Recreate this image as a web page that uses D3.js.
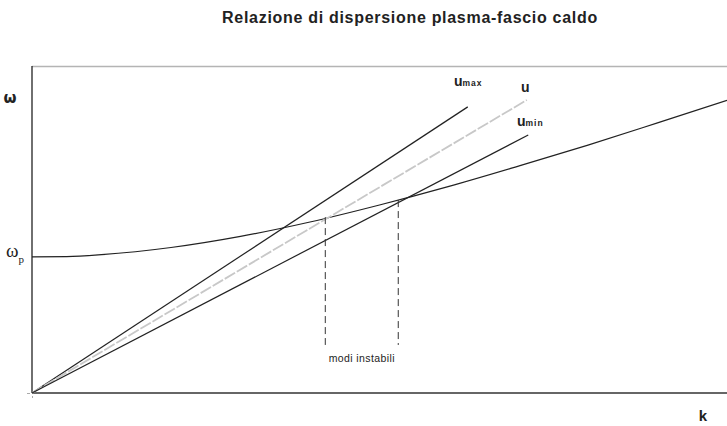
<!DOCTYPE html>
<html>
<head>
<meta charset="utf-8">
<script src="https://cdn.jsdelivr.net/npm/d3@7"></script>
<style>
  body { margin: 0; background: #fff; }
  svg { display: block; font-family: "Liberation Sans", Arial, sans-serif; }
</style>
</head>
<body>
<div id="chart"></div>
<script>
// values (k and omega in arbitrary units, 0..10)
var curveK = [0, 0.5, 1, 2, 3, 4, 5, 6, 7, 8, 9, 10];
var curveW = [4.16, 4.17, 4.23, 4.45, 4.79, 5.23, 5.75, 6.32, 6.94, 7.58, 8.26, 8.95];

var lineNames = ["umax", "u", "umin"];
var lineEndK = [6.27, 7.12, 7.14];
var lineEndW = [8.75, 8.96, 7.89];

var unstableK = [4.22, 5.27];
var unstableTop = [5.38, 5.90];
var unstableBottom = 1.47;

var title = "Relazione di dispersione plasma-fascio caldo";

var margin = {top: 66, right: 0, bottom: 33, left: 32};
var width = 727 - margin.left - margin.right;
var height = 426 - margin.top - margin.bottom;

var svg = d3.select("#chart")
  .append("svg")
  .attr("width", 727)
  .attr("height", 426);

var g = svg.append("g")
  .attr("transform", "translate(" + margin.left + "," + margin.top + ")");

var xScale = d3.scaleLinear().domain([0, 10]).range([0, width]);
var yScale = d3.scaleLinear().domain([0, 10]).range([height, 0]);

// title
svg.append("text")
  .attr("x", 410)
  .attr("y", 23)
  .attr("text-anchor", "middle")
  .style("font-size", "16px")
  .style("letter-spacing", "0.7px")
  .style("font-weight", "bold")
  .style("fill", "#222")
  .text(title);

// frame: top light, left and bottom dark
g.append("line")
  .attr("x1", 0).attr("x2", width)
  .attr("y1", 0.5).attr("y2", 0.5)
  .style("stroke", "#b4b4b4").style("stroke-width", 1.3);

// tiny ticks at the origin
g.append("g")
  .attr("transform", "translate(-2,0)")
  .call(d3.axisLeft(yScale).tickValues([0]).tickSize(3).tickFormat(""))
  .call(function(a) { a.select(".domain").remove(); a.selectAll("line").style("stroke", "#aaa"); });
g.append("g")
  .attr("transform", "translate(0," + (height + 3) + ")")
  .call(d3.axisBottom(xScale).tickValues([0]).tickSize(2).tickFormat(""))
  .call(function(a) { a.select(".domain").remove(); a.selectAll("line").style("stroke", "#aaa"); });

g.append("line")
  .attr("x1", 0).attr("x2", 0)
  .attr("y1", 0).attr("y2", height)
  .style("stroke", "#222").style("stroke-width", 1.3);
g.append("line")
  .attr("x1", 0).attr("x2", width)
  .attr("y1", height).attr("y2", height)
  .style("stroke", "#333").style("stroke-width", 1.5);

// dispersion curve
var line = d3.line()
  .x(function(d) { return xScale(d[0]); })
  .y(function(d) { return yScale(d[1]); });

var curve = curveK.map(function(k, i) { return [k, curveW[i]]; });
g.append("path")
  .datum(curve)
  .attr("d", line.curve(d3.curveMonotoneX))
  .style("fill", "none")
  .style("stroke", "#222")
  .style("stroke-width", 1.2);

// beam lines from origin
var beams = lineNames.map(function(n, i) {
  return {name: n, pts: [[0, 0], [lineEndK[i], lineEndW[i]]]};
});
g.selectAll(".beam")
  .data(beams)
  .enter()
  .append("path")
  .attr("class", "beam")
  .attr("d", function(d) { return d3.line().x(function(p) { return xScale(p[0]); }).y(function(p) { return yScale(p[1]); })(d.pts); })
  .style("fill", "none")
  .style("stroke", function(d) { return d.name === "u" ? "#c8c8c8" : "#222"; })
  .style("stroke-width", function(d) { return d.name === "u" ? 1.8 : 1.2; })
  .style("stroke-dasharray", function(d) { return d.name === "u" ? "12,2" : null; });

// unstable region markers
g.selectAll(".unstable")
  .data(unstableK)
  .enter()
  .append("line")
  .attr("class", "unstable")
  .attr("x1", function(d) { return xScale(d); })
  .attr("x2", function(d) { return xScale(d); })
  .attr("y1", function(d, i) { return yScale(unstableTop[i]); })
  .attr("y2", yScale(unstableBottom))
  .style("stroke", "#333")
  .style("stroke-width", 1)
  .style("stroke-dasharray", "7,4");

g.append("text")
  .attr("x", xScale((unstableK[0] + unstableK[1]) / 2))
  .attr("y", yScale(unstableBottom) + 17)
  .attr("text-anchor", "middle")
  .style("font-size", "10.5px")
  .style("letter-spacing", "0.4px")
  .style("fill", "#222")
  .text("modi instabili");

// axis labels
svg.append("text")
  .attr("x", 10).attr("y", 103)
  .attr("text-anchor", "middle")
  .style("font-family", "'DejaVu Sans', sans-serif")
  .style("font-size", "15px")
  .style("font-weight", "bold")
  .style("fill", "#222")
  .text("ω");

var wp = svg.append("text")
  .attr("x", 6).attr("y", 257)
  .style("font-family", "'Liberation Serif', serif")
  .style("font-size", "19px")
  .style("fill", "#222");
wp.append("tspan").text("ω");
wp.append("tspan").attr("dy", 6).style("font-size", "11px").text("p");

svg.append("text")
  .attr("x", 703).attr("y", 421)
  .attr("text-anchor", "middle")
  .style("font-size", "15px")
  .style("font-weight", "bold")
  .style("fill", "#222")
  .text("k");

// line labels
var lab = [
  {x: 454, y: 86, main: "u", sub: "max"},
  {x: 521, y: 92, main: "u", sub: ""},
  {x: 517, y: 126, main: "u", sub: "min"}
];
lab.forEach(function(l) {
  var t = svg.append("text")
    .attr("x", l.x).attr("y", l.y)
    .style("font-size", "14px")
    .style("font-weight", "bold")
    .style("fill", "#222");
  t.append("tspan").text(l.main);
  if (l.sub) {
    t.append("tspan")
      .style("font-size", "8.5px")
      .style("letter-spacing", "1px")
      .text(l.sub);
  }
});
</script>
</body>
</html>
